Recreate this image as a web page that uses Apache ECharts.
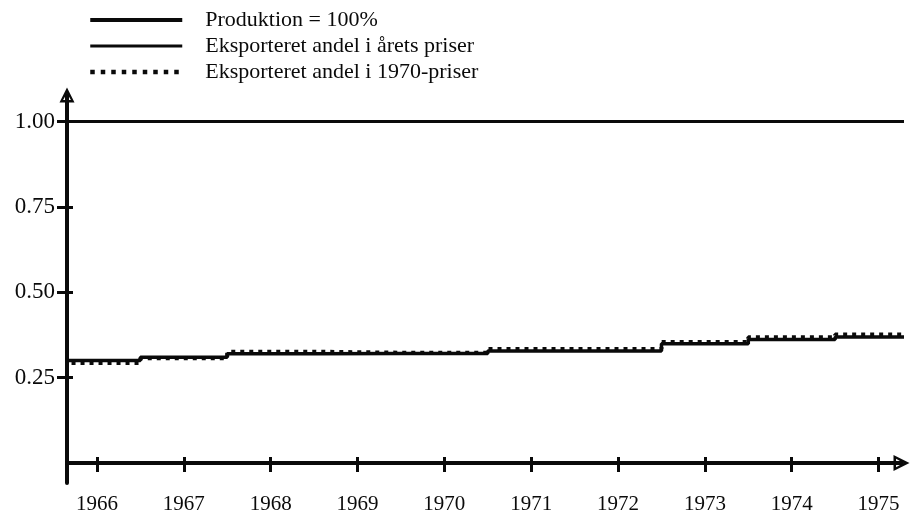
<!DOCTYPE html>
<html>
<head>
<meta charset="utf-8">
<script src="https://cdn.jsdelivr.net/npm/echarts@6/dist/echarts.min.js"></script>
<style>
html,body{margin:0;padding:0;background:#fff;}
#chart{width:916px;height:517px;}
</style>
</head>
<body>
<div id="chart"></div>
<script>
// ---- data ----
const years = [1966, 1967, 1968, 1969, 1970, 1971, 1972, 1973, 1974, 1975];
const productionShare = [1, 1, 1, 1, 1, 1, 1, 1, 1, 1];
const exportCurrentPrices = [0.300, 0.310, 0.320, 0.321, 0.321, 0.328, 0.328, 0.349, 0.362, 0.369];
const export1970Prices = [0.293, 0.307, 0.326, 0.323, 0.323, 0.334, 0.334, 0.354, 0.368, 0.376];
const yTickValues = [0.25, 0.5, 0.75, 1.0];
const seriesNames = ['Produktion = 100%', 'Eksporteret andel i årets priser', 'Eksporteret andel i 1970-priser'];

// step edges: each year's value holds from half a year before to half a year after
function stepData(values) {
  const out = values.map((v, i) => [years[i] - 0.5, v]);
  out.push([years[years.length - 1] + 0.5, values[values.length - 1]]);
  return out;
}

const FONT = 'Liberation Serif';
const INK = '#0a0a0a';
const arrowPath = 'path://M0,0L10,20L-10,20Z M0,7.5L-5.2,16.8L5.2,16.8Z';

const xMin = 1965.655, xMax = 1975.264;
const yMin = -0.0585, yMax = 1.0775;

const chart = echarts.init(document.getElementById('chart'), null, {renderer: 'canvas'});
chart.setOption({
  animation: false,
  backgroundColor: '#fff',
  legend: {
    orient: 'vertical',
    left: 83,
    top: 2,
    itemWidth: 92,
    itemHeight: 12,
    itemGap: 0,
    selectedMode: false,
    itemStyle: {color: 'transparent', borderColor: 'transparent', borderWidth: 0, opacity: 0},
    textStyle: {fontFamily: FONT, fontSize: 22, color: INK, lineHeight: 26, padding: [0, 0, 0, 18]},
    data: [
      {name: seriesNames[0], lineStyle: {color: INK, width: 4, type: 'solid'}},
      {name: seriesNames[1], lineStyle: {color: INK, width: 3, type: 'solid'}},
      {name: seriesNames[2], lineStyle: {color: INK, width: 4.5, type: [4.5, 6]}}
    ]
  },
  grid: {left: 67, right: 916 - 901.5, top: 95, bottom: 34, containLabel: false, outerBoundsMode: 'none'},
  xAxis: [{
    type: 'value', min: xMin, max: xMax,
    splitLine: {show: false},
    axisLine: {show: true, onZero: true, symbol: ['none', arrowPath], symbolSize: [16, 18],
      lineStyle: {color: INK, width: 4}},
    axisTick: {show: true, customValues: years, length: 9, inside: false, lineStyle: {color: INK, width: 3}},
    axisLabel: {show: true, customValues: years, margin: 11, fontFamily: FONT, fontSize: 21, color: INK,
      formatter: v => String(Math.round(v))}
  }, {
    type: 'value', min: xMin, max: xMax, position: 'bottom',
    splitLine: {show: false},
    axisLine: {show: true, onZero: true, lineStyle: {color: INK, width: 4}},
    axisTick: {show: true, customValues: years, length: 6, inside: true, lineStyle: {color: INK, width: 3}},
    axisLabel: {show: false}
  }],
  yAxis: [{
    type: 'value', min: yMin, max: yMax, position: 'left',
    splitLine: {show: false},
    axisLine: {show: true, symbol: ['none', arrowPath], symbolSize: [15, 17],
      lineStyle: {color: INK, width: 4}},
    axisTick: {show: true, customValues: yTickValues, length: 10, inside: false, lineStyle: {color: INK, width: 3}},
    axisLabel: {show: true, customValues: yTickValues, margin: 12, fontFamily: FONT, fontSize: 23, color: INK,
      formatter: v => v.toFixed(2)}
  }, {
    type: 'value', min: yMin, max: yMax, position: 'left',
    splitLine: {show: false},
    axisLine: {show: false},
    axisTick: {show: true, customValues: yTickValues, length: 6, inside: true, lineStyle: {color: INK, width: 3}},
    axisLabel: {show: false}
  }],
  series: [{
    name: seriesNames[0], type: 'line', xAxisIndex: 0, yAxisIndex: 0,
    data: stepData(productionShare), symbol: 'none', clip: false,
    lineStyle: {color: INK, width: 3}, itemStyle: {color: INK}
  }, {
    name: seriesNames[1], type: 'line', step: 'end', xAxisIndex: 0, yAxisIndex: 0,
    data: stepData(exportCurrentPrices), symbol: 'none', clip: false,
    lineStyle: {color: INK, width: 3.5}, itemStyle: {color: INK}
  }, {
    name: seriesNames[2], type: 'line', step: 'end', xAxisIndex: 0, yAxisIndex: 0,
    data: stepData(export1970Prices), symbol: 'none', clip: false,
    lineStyle: {color: INK, width: 4, type: [4, 5]}, itemStyle: {color: INK}
  }]
});
</script>
</body>
</html>
